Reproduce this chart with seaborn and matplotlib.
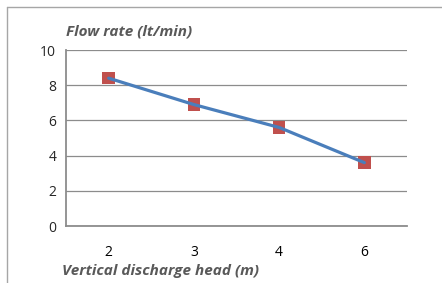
import matplotlib
matplotlib.use("Agg")
import matplotlib.pyplot as plt
from matplotlib.ticker import FixedLocator
import seaborn as sns
import pandas as pd

heads = ["2", "3", "4", "6"]
flow = [8.4, 6.9, 5.6, 3.6]
y_ticks = [0, 2, 4, 6, 8, 10]

df = pd.DataFrame({"head": heads, "flow": flow})

sns.set_style("white")
plt.rcParams['font.family'] = ['Open Sans', 'DejaVu Sans']

fig = plt.figure(figsize=(4.42, 2.83), dpi=100)
ax = fig.add_axes([66/442, 1-226/283, (407-66)/442, (226-50)/283])

sns.scatterplot(data=df, x="head", y="flow", marker="s", s=80, color="#C0504D",
                edgecolor="none", zorder=3, ax=ax)
sns.lineplot(data=df, x="head", y="flow", color="#4A7EBB", linewidth=2.3,
             zorder=4, ax=ax)

ax.set_xlim(-0.5, len(heads) - 0.5)
ax.set_ylim(0, 10)
ax.set_yticks(y_ticks)
ax.xaxis.set_minor_locator(FixedLocator([i - 0.5 for i in range(len(heads) + 1)]))
ax.tick_params(axis="x", which="major", length=0, pad=14, labelsize=10, colors="#000000")
ax.tick_params(axis="x", which="minor", length=4, width=1, color="#8c8c8c", direction="out")
ax.tick_params(axis="y", which="major", length=4, width=1, color="#8c8c8c",
               direction="out", labelsize=10, pad=3)
ax.yaxis.grid(True, color="#8c8c8c", linewidth=0.9)
ax.set_axisbelow(True)
for side in ["top", "right"]:
    ax.spines[side].set_visible(False)
for side in ["left", "bottom"]:
    ax.spines[side].set_color("#8c8c8c")
    ax.spines[side].set_linewidth(1.3)
ax.set_xlabel("")
ax.set_ylabel("")

fig.text(66/442, 1-32/283, "Flow rate (lt/min)", fontsize=11, fontweight="bold",
         fontstyle="italic", color="#595959", ha="left", va="center")
fig.text(62/442, 1-271/283, "Vertical discharge head (m)", fontsize=11, fontweight="bold",
         fontstyle="italic", color="#595959", ha="left", va="center")

# chart border (top and left visible)
fig.add_artist(plt.Line2D([7/442, 1], [1-7/283, 1-7/283], color="#a6a6a6", linewidth=1))
fig.add_artist(plt.Line2D([7/442, 7/442], [0, 1-7/283], color="#a6a6a6", linewidth=1))

fig.savefig("out.png", dpi=100)
